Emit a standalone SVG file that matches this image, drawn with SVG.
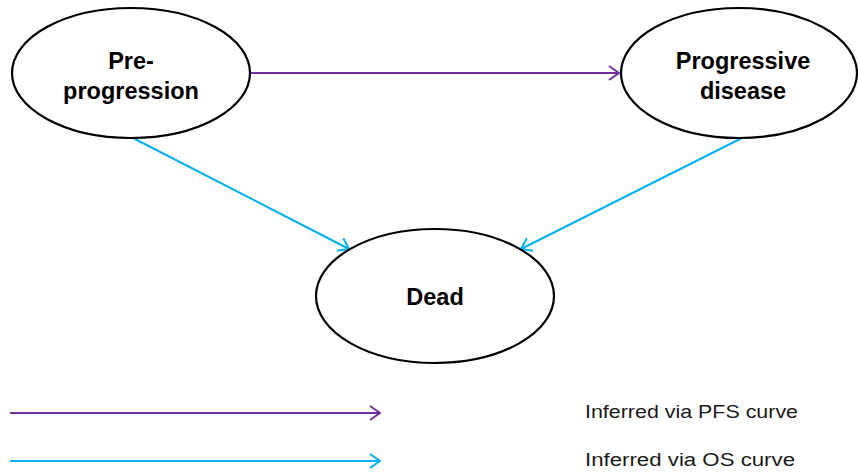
<svg xmlns="http://www.w3.org/2000/svg" width="858" height="474" viewBox="0 0 858 474">
  <style>
    .state { fill: #ffffff; stroke: #000000; stroke-width: 2.2; }
    .label { font-family: "Liberation Sans", Arial, sans-serif; font-weight: bold; font-size: 23.5px; fill: #000000; text-anchor: middle; }
    .legend-text { font-family: "Liberation Sans", Arial, sans-serif; font-size: 18px; fill: #1a1a1a; }
    .pfs { stroke: #7030A0; stroke-width: 2; fill: none; marker-end: url(#arrow-pfs); }
    .os { stroke: #00B0F0; stroke-width: 2; fill: none; marker-end: url(#arrow-os); }
  </style>
  <defs>
    <marker id="arrow-pfs" viewBox="0 0 12 16" refX="11" refY="8" markerWidth="12" markerHeight="16" markerUnits="userSpaceOnUse" orient="auto">
      <path d="M1,1 L11,8 L1,15" fill="none" stroke="#7030A0" stroke-width="2"/>
    </marker>
    <marker id="arrow-os" viewBox="0 0 12 16" refX="11" refY="8" markerWidth="12" markerHeight="16" markerUnits="userSpaceOnUse" orient="auto">
      <path d="M1,1 L11,8 L1,15" fill="none" stroke="#00B0F0" stroke-width="2"/>
    </marker>
  </defs>

  <g id="connectors">
    <line class="pfs" x1="250" y1="73" x2="619" y2="73"/>
    <line class="os" x1="133" y1="138" x2="349" y2="249"/>
    <line class="os" x1="742" y1="138" x2="521" y2="249"/>
  </g>

  <g id="pre-progression">
    <ellipse class="state" cx="131" cy="73" rx="119" ry="65"/>
    <text class="label" x="131" y="69">Pre-</text>
    <text class="label" x="131" y="99">progression</text>
  </g>

  <g id="progressive-disease">
    <ellipse class="state" cx="739" cy="73" rx="118" ry="65"/>
    <text class="label" x="743" y="69">Progressive</text>
    <text class="label" x="743" y="99">disease</text>
  </g>

  <g id="dead">
    <ellipse class="state" cx="435" cy="296" rx="119" ry="67"/>
    <text class="label" x="435" y="305">Dead</text>
  </g>

  <g id="legend">
    <line class="pfs" x1="10" y1="413" x2="380" y2="413"/>
    <text class="legend-text" x="585" y="418" textLength="213" lengthAdjust="spacingAndGlyphs">Inferred via PFS curve</text>
    <line class="os" x1="10" y1="461" x2="380" y2="461"/>
    <text class="legend-text" x="585" y="466" textLength="210" lengthAdjust="spacingAndGlyphs">Inferred via OS curve</text>
  </g>
</svg>
